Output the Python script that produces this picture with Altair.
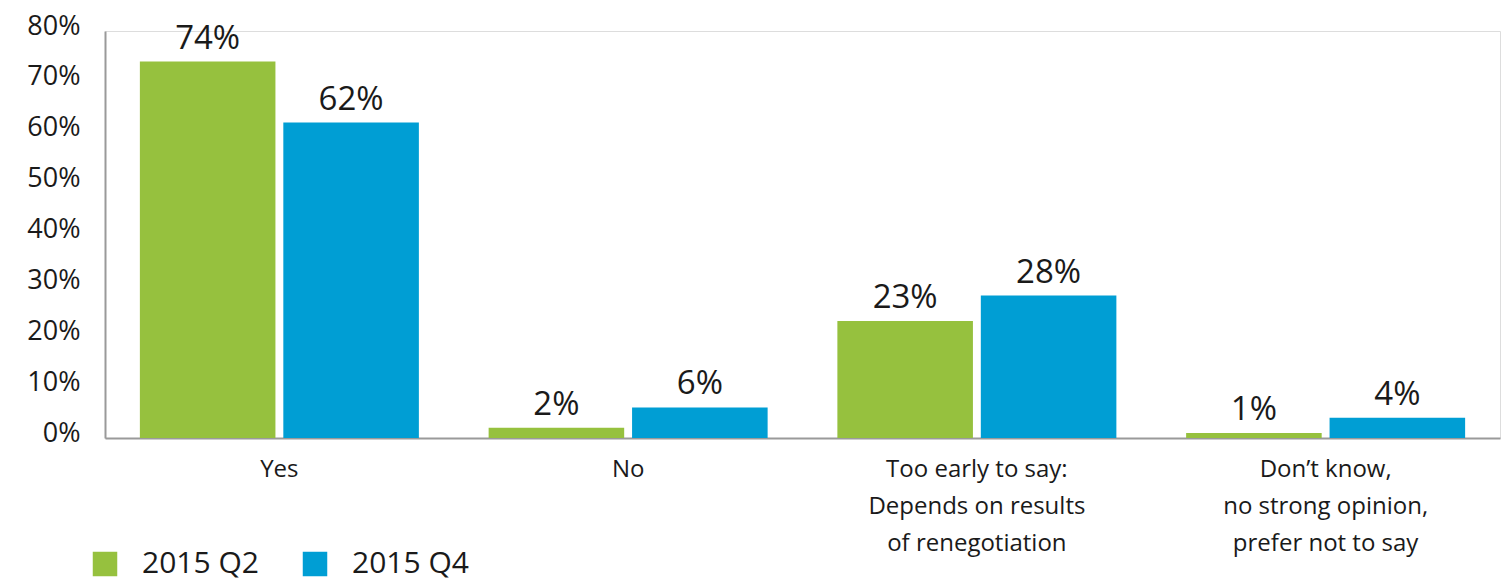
import altair as alt
import pandas as pd

categories = ["Yes", "No", "Too early to say:|Depends on results|of renegotiation",
              "Don’t know,|no strong opinion,|prefer not to say"]
series = ["2015 Q2", "2015 Q4"]
q2_values = [74, 2, 23, 1]
q4_values = [62, 6, 28, 4]
colors = ["#96C13E", "#009ED4"]

rows = []
for c, a, b in zip(categories, q2_values, q4_values):
    rows.append({"cat": c, "series": series[0], "value": a})
    rows.append({"cat": c, "series": series[1], "value": b})
df = pd.DataFrame(rows)
df["label"] = df["value"].astype(str) + "%"

FONT = "Open Sans"
TXT = "#1a1a1a"

x = alt.X("cat:N", sort=categories,
          scale=alt.Scale(paddingInner=0.2, paddingOuter=0.1),
          axis=alt.Axis(title=None, labelAngle=0, ticks=False, domainColor="#9a9a9a",
                        domainWidth=2, labelFontSize=24, labelColor=TXT,
                        labelFont=FONT, labelPadding=19, labelLineHeight=37,
                        labelLimit=400,
                        labelExpr="split(datum.label, '|')"))
xo = alt.XOffset("series:N", sort=series, scale=alt.Scale(paddingInner=0.055, paddingOuter=0))
y = alt.Y("value:Q", scale=alt.Scale(domain=[0, 80]),
          axis=alt.Axis(title=None, values=[0, 10, 20, 30, 40, 50, 60, 70, 80],
                        labelExpr="datum.value + '%'", grid=False, ticks=False,
                        domainColor="#9a9a9a", domainWidth=2, labelFontSize=27,
                        labelColor=TXT, labelFont=FONT, labelPadding=25,
                        labelOffset=-5))
color = alt.Color("series:N", sort=series, scale=alt.Scale(domain=series, range=colors),
                  legend=alt.Legend(title=None, orient="none", legendX=-15, legendY=518,
                                    direction="horizontal", symbolType="square",
                                    symbolSize=600, symbolStrokeWidth=0, labelFontSize=30,
                                    labelFont=FONT, labelColor=TXT, labelOffset=22,
                                    columnPadding=41, padding=0))

base = alt.Chart(df)
bars = base.mark_bar().encode(x=x, xOffset=xo, y=y, color=color)
labels = base.mark_text(baseline="bottom", dy=-6, fontSize=33, font=FONT,
                        color=TXT).encode(x=x, xOffset=xo, y=y, text="label:N")

chart = alt.layer(bars, labels).properties(
    width=1395, height=407,
    autosize=alt.AutoSizeParams(type="none"),
    padding={"left": 105, "top": 31, "right": 3, "bottom": 144},
).configure_view(stroke=None).configure(background="white")

chart.save("out.html", embed_options={"renderer": "svg", "actions": False})
